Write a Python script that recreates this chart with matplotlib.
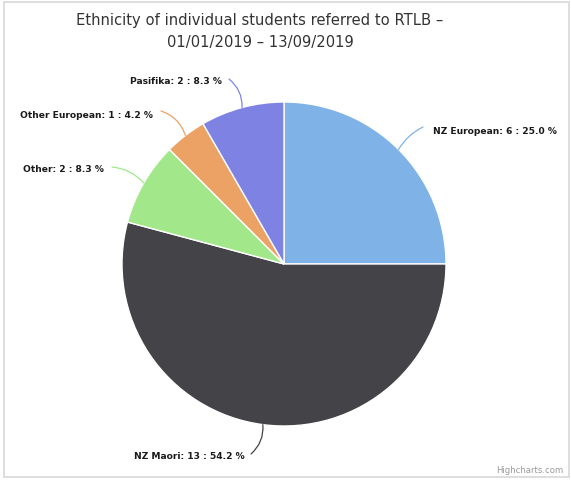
import numpy as np
import matplotlib
matplotlib.use("Agg")
import matplotlib.pyplot as plt
from matplotlib.patches import Rectangle

# Data
categories = ["NZ European", "NZ Maori", "Other", "Other European", "Pasifika"]
counts = [6, 13, 2, 1, 2]
colors = ["#7fb3e8", "#434348", "#a2e88a", "#eba264", "#7e83e3"]
title_lines = ["Ethnicity of individual students referred to RTLB –",
               "01/01/2019 – 13/09/2019"]

W, H = 571, 481
fig = plt.figure(figsize=(W / 100, H / 100), dpi=100)
ax = fig.add_axes([0, 0, 1, 1])
ax.set_xlim(0, W)
ax.set_ylim(0, H)
ax.set_aspect("equal")
ax.axis("off")

# Outer frame
ax.add_patch(Rectangle((4, 3), 565, 475, fill=False, edgecolor="#d8d8d8", lw=1.2))

cx, cy, r = 284, H - 265, 162
wedges, _ = ax.pie(counts, colors=colors, startangle=90, counterclock=False,
                   radius=r, center=(cx, cy),
                   wedgeprops=dict(edgecolor="white", linewidth=1))
ax.set_xlim(0, W)
ax.set_ylim(0, H)

total = sum(counts)
# label text anchor (pixel coords from top-left), alignment, connector start
label_layout = {
    "NZ European":    ((433, 132), "left",  (423, 128), 0.15),
    "NZ Maori":       ((245, 457), "right", (251, 455), 0.25),
    "Other":          ((104, 170), "right", (112, 168), -0.2),
    "Other European": ((153, 115), "right", (161, 112), -0.25),
    "Pasifika":       ((222, 82),  "right", (229, 80), -0.25),
}

for w, name, c in zip(wedges, categories, counts):
    mid = np.deg2rad((w.theta1 + w.theta2) / 2)
    ex, ey = cx + r * np.cos(mid), cy + r * np.sin(mid)
    (tx, ty), ha, (sx, sy), rad = label_layout[name]
    pct = 100 * c / total
    ax.text(tx, H - ty, f"{name}: {c} : {pct:.1f} %", ha=ha, va="center",
            fontsize=6.6, fontweight="bold", color="#1a1a1a", family="DejaVu Sans")
    ax.annotate("", xy=(ex, ey), xytext=(sx, H - sy),
                arrowprops=dict(arrowstyle="-", color=w.get_facecolor(), lw=0.9,
                                connectionstyle=f"arc3,rad={rad}",
                                shrinkA=0, shrinkB=0))

ax.text(260, H - 21, title_lines[0], ha="center", va="center",
        fontsize=10.6, color="#333333", family="DejaVu Sans")
ax.text(260, H - 42, title_lines[1], ha="center", va="center",
        fontsize=10.6, color="#333333", family="DejaVu Sans")
ax.text(563, H - 471, "Highcharts.com", ha="right", va="center",
        fontsize=6.1, color="#999999")

fig.savefig("out.png", dpi=100)
